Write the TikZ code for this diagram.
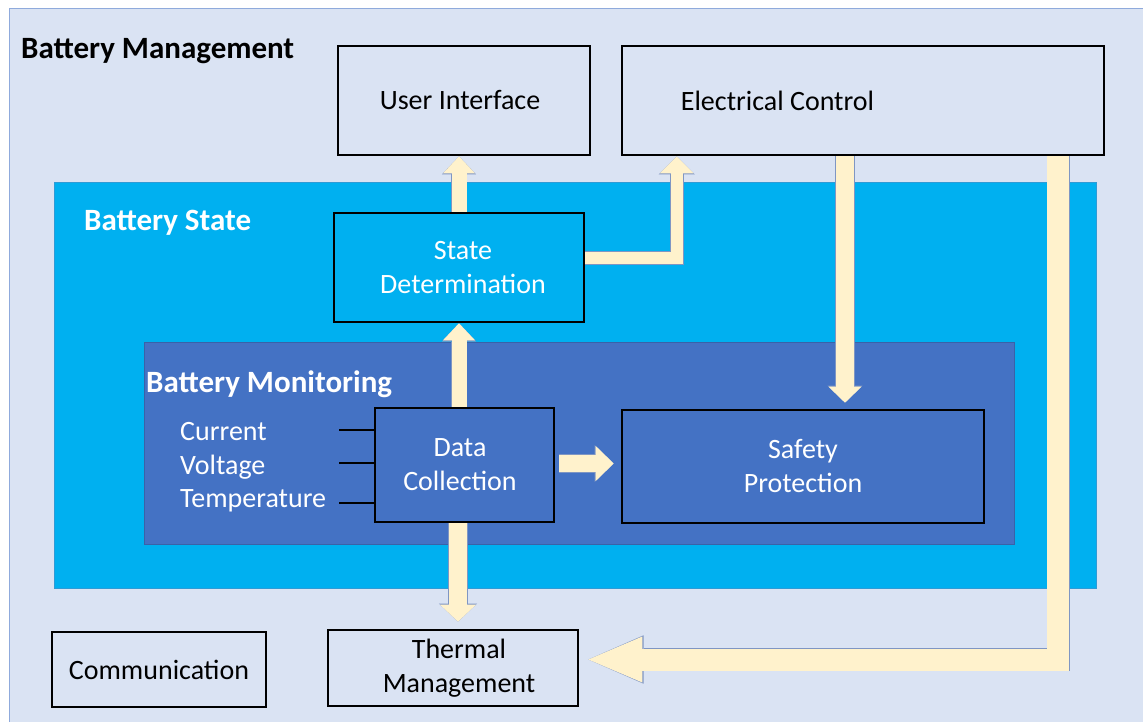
\documentclass[tikz,border=0pt]{standalone}
\usepackage{fontspec}
\setmainfont{Carlito}
\usetikzlibrary{arrows.meta}
\definecolor{bgpale}{HTML}{DAE3F3}
\definecolor{bgedge}{HTML}{8FAADC}
\definecolor{statefill}{HTML}{00B0F0}
\definecolor{stateedge}{HTML}{2E9BD6}
\definecolor{monfill}{HTML}{4472C4}
\definecolor{monedge}{HTML}{3A62A8}
\definecolor{cream}{HTML}{FFF2CC}
\definecolor{arrowedge}{HTML}{7F96C3}
\begin{document}
\begin{tikzpicture}[x=1pt,y=-1pt,
 box/.style={draw=black, line width=2.6pt, rectangle, inner sep=0pt, font=\fontsize{28}{34}\selectfont, align=center},
 lbl/.style={font=\fontsize{28}{34}\selectfont, inner sep=0pt},
 ttl/.style={font=\fontsize{31}{37}\selectfont\bfseries, inner sep=0pt},
 stub/.style={draw=black, line width=1.5pt},
 barrow/.style n args={6}{draw=cream, line width=#1, line join=miter, -{Triangle[width=#2,length=#3,line width=0pt]}, preaction={draw=arrowedge, line width=#4, -{Triangle[width=#5,length=#6,line width=0pt]}}},
]
\useasboundingbox (0,0) rectangle (1143,722);
\fill[white] (0,0) rectangle (1143,722);
\begin{scope}
\clip (0,0) rectangle (1143,722);
\node[draw=bgedge, fill=bgpale, line width=1.2pt, minimum width=1160pt, minimum height=740pt, anchor=north west, inner sep=0pt] (bmg) at (9,8) {};
\end{scope}
\node[ttl, anchor=base west] (tbm) at (21,59) {Battery Management};

% Battery state region
\node[draw=stateedge, fill=statefill, line width=1pt, minimum width=1042pt, minimum height=405pt, inner sep=0pt] (bs) at (575,385.5) {};
\node[ttl, text=white, anchor=base west] (tbs) at (84,231) {Battery State};

% Battery monitoring region
\node[draw=monedge, fill=monfill, line width=1pt, minimum width=870pt, minimum height=202pt, inner sep=0pt] (bm) at (579,443) {};
\node[ttl, text=white, anchor=base west] (tbmon) at (146,392) {Battery Monitoring};

% Boxes
\node[box, minimum width=252pt, minimum height=109pt] (ui) at (464,100.5) {User Interface\hspace*{8pt}};
\node[box, minimum width=482pt, minimum height=109pt] (ec) at (863,100.5) {};
\node[lbl, anchor=west] (ectext) at ([xshift=60pt]ec.west) {Electrical Control};
\node[box, fill=statefill, text=white, minimum width=250pt, minimum height=109pt] (sd) at (459,267.5) {\hspace*{8pt}State\\\hspace*{8pt}Determination};
\node[box, fill=monfill, text=white, minimum width=179pt, minimum height=114pt] (dc) at (464.5,465) {Data\hspace*{9pt}\\Collection\hspace*{9pt}};
\node[box, fill=monfill, text=white, minimum width=362pt, minimum height=113pt] (sp) at (803,466.5) {Safety\\Protection};
\node[box, minimum width=214pt, minimum height=75pt] (cm) at (159,669.5) {Communication};
\node[box, minimum width=250pt, minimum height=76pt] (tm) at (453,668) {\hspace*{12pt}Thermal\\\hspace*{12pt}Management};

% Inputs
\node[lbl, text=white, anchor=base west] (cur) at (180,440) {Current};
\node[lbl, text=white, anchor=base west] (vol) at (180,474) {Voltage};
\node[lbl, text=white, anchor=base west] (tmp) at (180,507) {Temperature};
\coordinate (s1) at (339,430);
\coordinate (s2) at (339,463);
\coordinate (s3) at (339,503);
\draw[stub] (s1) -- (s1 -| dc.west);
\draw[stub] (s2) -- (s2 -| dc.west);
\draw[stub] (s3) -- (s3 -| dc.west);

% Block arrows
\draw[barrow={15pt}{32pt}{17pt}{16.6pt}{34.4pt}{18.2pt}] (sd.north) -- (sd.north |- ui.south);
\draw[barrow={12pt}{34pt}{17pt}{13.6pt}{36.4pt}{18.2pt}] ([yshift=9.5pt]sd.east) -| ([xshift=56pt]ec.south west);
\draw[barrow={18pt}{33pt}{16pt}{19.6pt}{35.4pt}{17.2pt}, shorten >=6pt] ([xshift=-18pt]ec.south) -- ([xshift=-18pt]ec.south |- sp.north);
\draw[barrow={22pt}{46pt}{54pt}{23.6pt}{48.4pt}{55.2pt}, shorten >=9pt] ([xshift=-47pt]ec.south east) |- ([yshift=8.5pt]tm.east);
\draw[barrow={15pt}{32pt}{17pt}{16.6pt}{34.4pt}{18.2pt}] (sd.south |- dc.north) -- (sd.south);
\draw[barrow={17pt}{35pt}{18pt}{18.6pt}{37.4pt}{19.2pt}, shorten <=4pt, shorten >=7pt] ([yshift=1.5pt]dc.east) -- ([yshift=1.5pt]dc.east -| sp.west);
\draw[barrow={18pt}{36pt}{17pt}{19.6pt}{38.4pt}{18.2pt}, shorten >=7pt] ([xshift=-6.5pt]dc.south) -- ([xshift=-6.5pt]dc.south |- tm.north);
\end{tikzpicture}
\end{document}
